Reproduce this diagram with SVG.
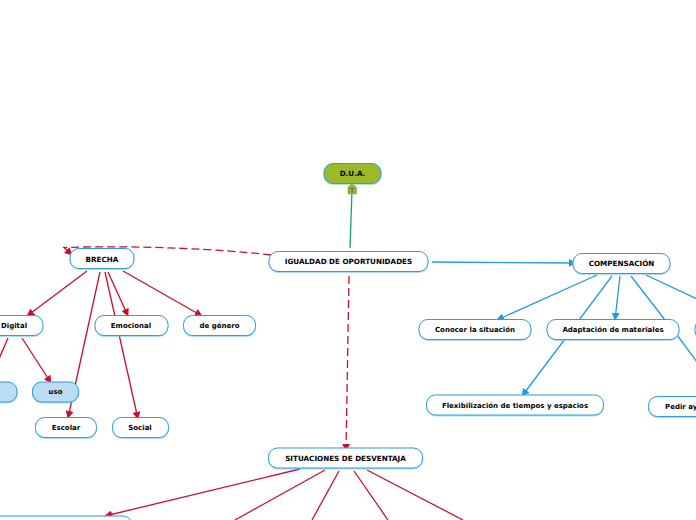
<svg xmlns="http://www.w3.org/2000/svg" width="696" height="520" viewBox="0 0 696 520">
<defs>
<marker id="r" viewBox="0 0 10 10" refX="9" refY="5" markerWidth="8" markerHeight="8" markerUnits="userSpaceOnUse" orient="auto"><path d="M0 0L10 5L0 10Z" fill="#c8102e"/></marker>
<marker id="b" viewBox="0 0 10 10" refX="9" refY="5" markerWidth="8" markerHeight="8" markerUnits="userSpaceOnUse" orient="auto"><path d="M0 0L10 5L0 10Z" fill="#1f9be0"/></marker>
<filter id="s" x="-5%" y="-10%" width="110%" height="125%"><feDropShadow dx="0" dy="0.6" stdDeviation="0.2" flood-color="#7cc4f0"/></filter>
</defs>
<style>
.n rect{fill:#fff;stroke:#2e9fe0;stroke-width:1;filter:url(#s)}
.t{font:bold 7px "DejaVu Sans",sans-serif;fill:#000;text-anchor:middle;dominant-baseline:central}
.u{font-size:7.2px}
.cr{stroke:#c8102e;stroke-width:1.3;fill:none;marker-end:url(#r)}
.crn{stroke:#c8102e;stroke-width:1.3;fill:none}
.cb{stroke:#1f9be0;stroke-width:1.3;fill:none;marker-end:url(#b)}
.cbn{stroke:#1f9be0;stroke-width:1.3;fill:none}
.d{stroke-dasharray:8 4}
</style>
<g id="connectors">
<path d="M350 248L352 190" stroke="#12a85a" stroke-width="1.3" fill="none"/>
<path class="cr d" d="M271 255C225 249.500 140 245 64 247.500L72 255"/>
<path class="cr d" d="M349 276L346 451"/>
<path class="cb" d="M432 262L576 263"/>
<path class="cr" d="M87 271L27 316"/>
<path class="cr" d="M100 272L68 418"/>
<path class="cr" d="M105 272L138 419"/>
<path class="cr" d="M108 272L128 316"/>
<path class="cr" d="M123 271L202 316"/>
<path class="cr" d="M22 338L51 383"/>
<path class="crn" d="M8 338L-8 375"/>
<path class="cb" d="M597 275L497 320"/>
<path class="cbn" d="M612 276L579 320"/>
<path class="cb" d="M620 276L615 320"/>
<path class="cbn" d="M631 276L665 320"/>
<path class="cbn" d="M646 275L710 305"/>
<path class="cb" d="M565 339L522 396"/>
<path class="cbn" d="M677 335L700 366"/>
<path class="cr" d="M300 469L105 516"/>
<path class="crn" d="M325 470L235 520"/>
<path class="crn" d="M339 471L312 520"/>
<path class="crn" d="M354 471L388 520"/>
<path class="crn" d="M367 470L463 520"/>
</g>
<g id="n1" class="n"><rect x="324" y="163.500" width="57" height="20" rx="9" style="fill:#9cb92c"/><text class="t u" x="352.500" y="173.500">D.U.A.</text></g>
<g id="n1b"><path d="M352 184L356.500 187V194H348V187Z" fill="#8fb13a" stroke="#6fae5a" stroke-width="0.6"/><text x="352" y="191.500" font-family="DejaVu Sans,sans-serif" font-size="5" text-anchor="middle" fill="#333">T</text></g>
<g id="n2" class="n"><rect x="269" y="251.500" width="159" height="20" rx="9"/><text class="t u" x="348.500" y="261.500">IGUALDAD DE OPORTUNIDADES</text></g>
<g id="n3" class="n"><rect x="70" y="248.500" width="64" height="20" rx="9"/><text class="t u" x="102" y="259">BRECHA</text></g>
<g id="n4" class="n"><rect x="573" y="253.500" width="97" height="20" rx="9"/><text class="t u" x="621.500" y="263.500">COMPENSACIÓN</text></g>
<g id="n5" class="n"><rect x="-20" y="315.500" width="63" height="20" rx="9"/><text class="t" x="14" y="325.500">Digital</text></g>
<g id="n6" class="n"><rect x="95" y="315.500" width="73" height="20" rx="9"/><text class="t" x="131" y="325.500">Emocional</text></g>
<g id="n7" class="n"><rect x="183.500" y="315.500" width="72" height="20" rx="9"/><text class="t" x="219.500" y="325.500">de género</text></g>
<g id="n8" class="n"><rect x="-20" y="382" width="37" height="20" rx="9" style="fill:#bcdcf2"/></g>
<g id="n9" class="n"><rect x="32.500" y="382" width="46" height="20" rx="9" style="fill:#bcdcf2"/><text class="t" x="55.500" y="392">uso</text></g>
<g id="n10" class="n"><rect x="35.500" y="417.500" width="61" height="20" rx="9"/><text class="t" x="66" y="427.500">Escolar</text></g>
<g id="n11" class="n"><rect x="112.500" y="417.500" width="56" height="20" rx="9"/><text class="t" x="140" y="427.500">Social</text></g>
<g id="n12" class="n"><rect x="419" y="319.500" width="112" height="20" rx="9"/><text class="t" x="475" y="329.500">Conocer la situación</text></g>
<g id="n13" class="n"><rect x="547" y="319.500" width="132" height="20" rx="9"/><text class="t" x="613" y="329.500">Adaptación de materiales</text></g>
<g id="n14" class="n"><rect x="695" y="319.500" width="30" height="20" rx="9"/></g>
<g id="n15" class="n"><rect x="426.500" y="395" width="177" height="20" rx="9"/><text class="t" x="515" y="405.500">Flexibilización de tiempos y espacios</text></g>
<g id="n16" class="n"><rect x="648.500" y="396.500" width="80" height="20" rx="9"/><text class="t" x="665" y="406.500" style="text-anchor:start">Pedir ay</text></g>
<g id="n17" class="n"><rect x="268.500" y="448" width="154" height="20" rx="9"/><text class="t u" x="345.500" y="458.500">SITUACIONES DE DESVENTAJA</text></g>
<g id="n18" class="n"><rect x="-20" y="516" width="152" height="20" rx="9"/></g>
</svg>
